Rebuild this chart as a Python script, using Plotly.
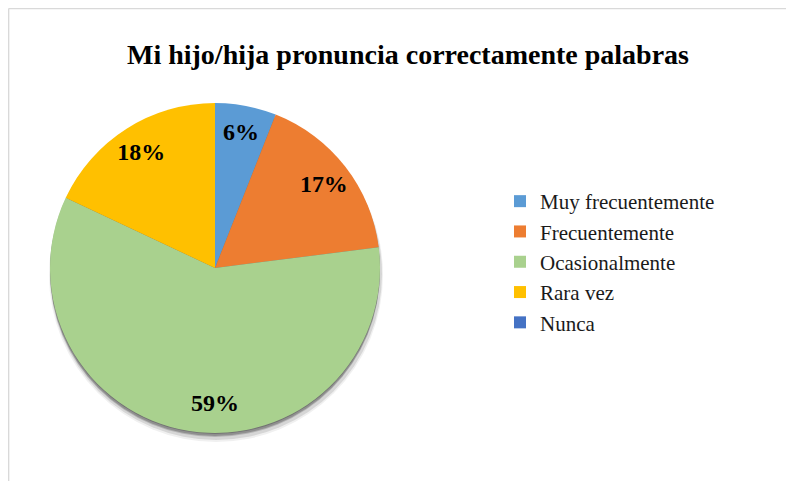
import plotly.graph_objects as go

# the page adds an 8px body margin, so the figure is a little smaller
W, H = 786, 473
OFF = 8

categories = ["Muy frecuentemente", "Frecuentemente", "Ocasionalmente", "Rara vez", "Nunca"]
values = [6, 17, 59, 18, 0]
colors = ["#5b9bd5", "#ed7d31", "#a9d18e", "#ffc000", "#4472c4"]
title = "Mi hijo/hija pronuncia correctamente palabras"

SERIF = "Liberation Serif, Times New Roman, serif"

# pie geometry in screen pixels (center and radius)
cx, cy, r = 215, 268, 165


def px(x):
    return (x - OFF) / W


def py(y):
    return 1 - (y - OFF) / H


def pie_domain(dx=0, dy=0, grow=0):
    return {
        "x": [px(cx - r - grow + dx), px(cx + r + grow + dx)],
        "y": [py(cy + r + grow + dy), py(cy - r - grow + dy)],
    }


fig = go.Figure()

# soft drop shadow under the pie
for dx, dy, grow, alpha in [(1, 7, 2, 0.08), (1, 6, 1, 0.14), (0, 4, 0, 0.22),
                            (0, 3, 0, 0.30), (0, 1, 0, 0.35)]:
    fig.add_trace(go.Pie(
        values=[sum(values)],
        domain=pie_domain(dx, dy, grow),
        marker={"colors": [f"rgba(60,60,60,{alpha})"], "line": {"width": 0}},
        textinfo="none",
        hoverinfo="skip",
        showlegend=False,
        sort=False,
    ))

fig.add_trace(go.Pie(
    labels=categories,
    values=values,
    textinfo="none",
    marker={"colors": colors, "line": {"width": 0}},
    domain=pie_domain(),
    direction="clockwise",
    rotation=0,
    sort=False,
    showlegend=True,
))

# transparent ring on top that carries the labels near the rim, like Excel
labels_text = [f"<b>{v}%</b>" if v > 0 else "" for v in values]
fig.add_trace(go.Pie(
    labels=categories,
    values=values,
    text=labels_text,
    texttemplate="%{text}",
    textposition="inside",
    insidetextorientation="horizontal",
    textfont={"family": SERIF, "size": 24, "color": "black"},
    marker={"colors": ["rgba(0,0,0,0)"] * len(values), "line": {"width": 0}},
    hole=0.67,
    domain=pie_domain(),
    direction="clockwise",
    rotation=0,
    sort=False,
    showlegend=False,
    hoverinfo="skip",
))

# chart area border (top and left edges visible in the crop)
fig.add_shape(type="line", xref="paper", yref="paper",
              x0=0.6 / W, x1=1, y0=1 - 0.6 / H, y1=1 - 0.6 / H,
              line={"color": "#d9d9d9", "width": 1.5})
fig.add_shape(type="line", xref="paper", yref="paper",
              x0=0.6 / W, x1=0.6 / W, y0=0, y1=1 - 0.6 / H,
              line={"color": "#d9d9d9", "width": 1.5})

fig.update_layout(
    width=W,
    height=H,
    margin={"l": 0, "r": 0, "t": 0, "b": 0},
    paper_bgcolor="white",
    title={
        "text": f"<b>{title}</b>",
        "x": px(408),
        "xanchor": "center",
        "y": py(54),
        "yanchor": "middle",
        "font": {"family": SERIF, "size": 28, "color": "black"},
    },
    legend={
        "x": px(500),
        "xanchor": "left",
        "y": py(262),
        "yanchor": "middle",
        "font": {"family": SERIF, "size": 21, "color": "#1a1a1a"},
        "itemwidth": 30,
        "tracegroupgap": 0,
        "traceorder": "normal",
    },
)

fig.write_html("out.html")
